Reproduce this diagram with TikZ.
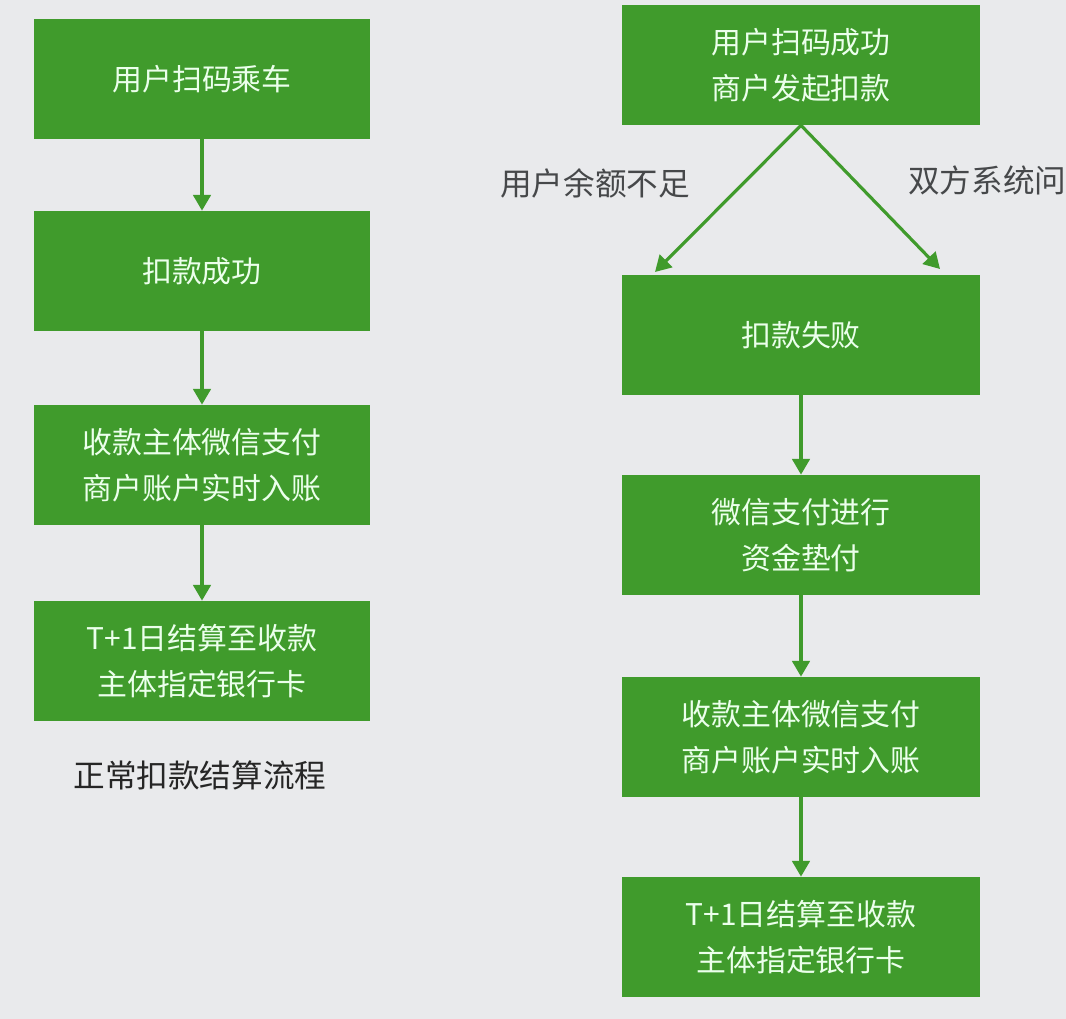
\documentclass[tikz,border=0pt]{standalone}
\usepackage{fontspec}
\setmainfont{Noto Sans CJK SC}
\usetikzlibrary{positioning,arrows.meta}
\definecolor{boxgreen}{RGB}{64,155,44}
\definecolor{paper}{RGB}{233,234,236}
\definecolor{labelgray}{RGB}{70,72,74}
\tikzset{
  stepbox/.style={fill=boxgreen,text=white!92!green,minimum height=2.4cm,
    align=center,font=\fontsize{17}{26}\selectfont,inner sep=0pt},
  leftbox/.style={stepbox,minimum width=6.72cm},
  rightbox/.style={stepbox,minimum width=7.16cm},
  flow/.style={draw=boxgreen,line width=1.8pt,-{Triangle[length=9pt,width=10pt]}},
  note/.style={text=labelgray,font=\fontsize{18}{20}\selectfont}
}
\begin{document}
\begin{tikzpicture}
\fill[paper] (0,0) rectangle (21.32,-20.38);
\useasboundingbox (0,0) rectangle (21.32,-20.38);
% normal flow
\node[leftbox] (scan) at (4.04,-1.58) {用户扫码乘车};
\node[leftbox] (paid) at (4.04,-5.42) {扣款成功};
\node[leftbox] (credit) at (4.04,-9.30) {收款主体微信支付\\商户账户实时入账};
\node[leftbox] (settle) at (4.04,-13.22) {T+1日结算至收款\\主体指定银行卡};
\node[note,text=black!85] (caption) at (4.00,-15.50) {正常扣款结算流程};
\draw[flow] (scan) -- (paid);
\draw[flow] (paid) -- (credit);
\draw[flow] (credit) -- (settle);
% failed deduction
\node[rightbox] (charge) at (16.02,-1.30) {用户扫码成功\\商户发起扣款};
\node[rightbox] (fail) at (16.02,-6.70) {扣款失败};
\node[rightbox] (advance) at (16.02,-10.70) {微信支付进行\\资金垫付};
\node[rightbox] (credit2) at (16.02,-14.74) {收款主体微信支付\\商户账户实时入账};
\node[rightbox] (settle2) at (16.02,-18.74) {T+1日结算至收款\\主体指定银行卡};
\coordinate (failL) at (13.10,-5.44);
\coordinate (failR) at (18.80,-5.38);
\draw[flow] (charge.south) -- (failL);
\draw[flow] (charge.south) -- (failR);
\node[note] (lowbal) at (11.90,-3.66) {用户余额不足};
\node[note,anchor=west,inner sep=0pt] (sysfault) at (18.16,-3.60) {双方系统问};
\draw[flow] (fail) -- (advance);
\draw[flow] (advance) -- (credit2);
\draw[flow] (credit2) -- (settle2);
\end{tikzpicture}
\end{document}
